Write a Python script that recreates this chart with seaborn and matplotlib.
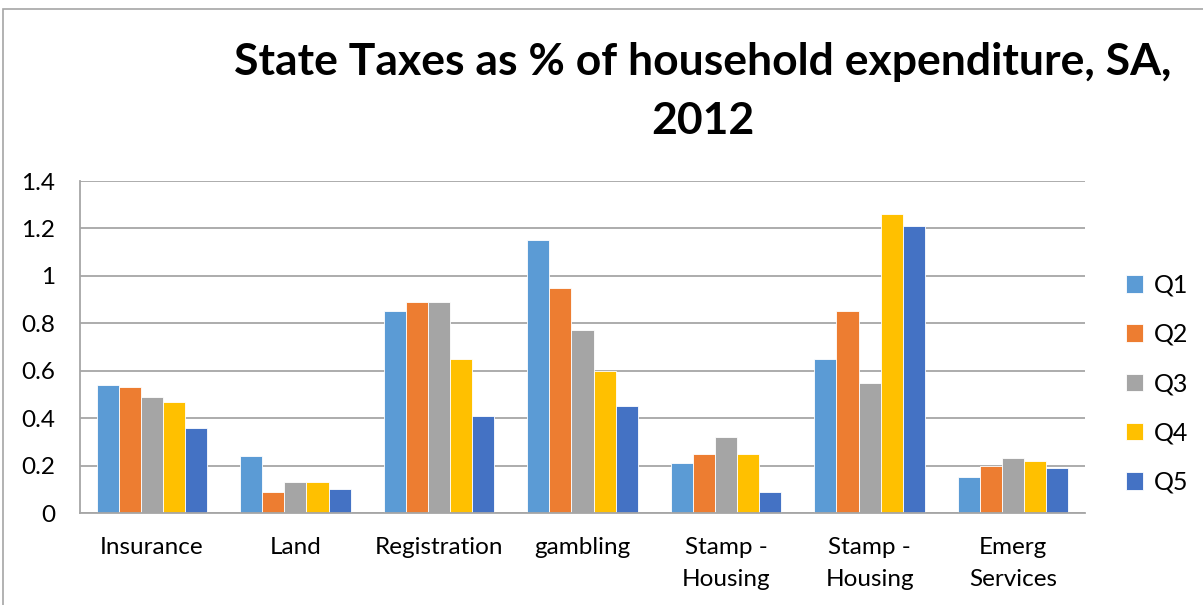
import numpy as np
import pandas as pd
import matplotlib
matplotlib.use("Agg")
import matplotlib.pyplot as plt
from matplotlib.patches import Rectangle
import seaborn as sns

categories = ["Insurance", "Land", "Registration", "gambling",
              "Stamp -\nHousing", "Stamp -\nHousing", "Emerg\nServices"]
quintiles = ["Q1", "Q2", "Q3", "Q4", "Q5"]
q1 = [0.54, 0.24, 0.85, 1.15, 0.21, 0.65, 0.15]
q2 = [0.53, 0.09, 0.89, 0.95, 0.25, 0.85, 0.20]
q3 = [0.49, 0.13, 0.89, 0.77, 0.32, 0.55, 0.23]
q4 = [0.47, 0.13, 0.65, 0.60, 0.25, 1.26, 0.22]
q5 = [0.36, 0.10, 0.41, 0.45, 0.09, 1.21, 0.19]
colors = ["#5B9BD5", "#ED7D31", "#A5A5A5", "#FFC000", "#4472C4"]

rows = []
for q, vals in zip(quintiles, [q1, q2, q3, q4, q5]):
    for i, v in enumerate(vals):
        rows.append({"idx": i, "Quintile": q, "value": v})
df = pd.DataFrame(rows)

sns.set_theme(style="white")
plt.rcParams["font.family"] = ["Lato", "DejaVu Sans"]
plt.rcParams["text.color"] = "black"

fig = plt.figure(figsize=(12.03, 6.05), dpi=100)
ax = fig.add_axes([80 / 1203, 1 - 513 / 605, (1085 - 80) / 1203, (513 - 181) / 605])

sns.barplot(data=df, x="idx", y="value", hue="Quintile", hue_order=quintiles,
            palette=colors, width=0.77, ax=ax, edgecolor="white", linewidth=0.6,
            saturation=1, errorbar=None)

ax.set_ylim(0, 1.4)
ax.set_yticks(np.arange(0, 1.41, 0.2))
ax.set_yticklabels(["0", "0.2", "0.4", "0.6", "0.8", "1", "1.2", "1.4"])
ax.set_xticks(range(len(categories)))
ax.set_xticklabels(categories, linespacing=1.65)
ax.set_xlim(-0.5, len(categories) - 0.5)
ax.tick_params(axis="both", labelsize=17.5, labelcolor="black", length=0)
ax.tick_params(axis="y", pad=18)
ax.tick_params(axis="x", pad=17)
ax.set_xlabel("")
ax.set_ylabel("")
ax.yaxis.grid(True, color="#A6A6A6", linewidth=1.3)
ax.set_axisbelow(True)
for side in ["top", "right"]:
    ax.spines[side].set_visible(False)
for side in ["left", "bottom"]:
    ax.spines[side].set_color("#A6A6A6")
    ax.spines[side].set_linewidth(1.3)

leg = ax.legend(loc="center left", bbox_to_anchor=(1.018, 0.39), frameon=False,
                fontsize=18, handlelength=0.7, handleheight=0.7, labelspacing=1.05,
                handletextpad=0.45)
for t in leg.get_texts():
    t.set_color("black")

fig.text(0.584, 0.897, "State Taxes as % of household expenditure, SA,",
         ha="center", va="center", fontsize=32, fontweight="bold", color="black")
fig.text(0.584, 0.80, "2012", ha="center", va="center", fontsize=32,
         fontweight="bold", color="black")

fig.patches.append(Rectangle((3 / 1203, -0.1), 1.2, 1.1 - 9 / 605,
                             transform=fig.transFigure, fill=False,
                             edgecolor="#A6A6A6", linewidth=1.2))

fig.savefig("out.png", dpi=100)
